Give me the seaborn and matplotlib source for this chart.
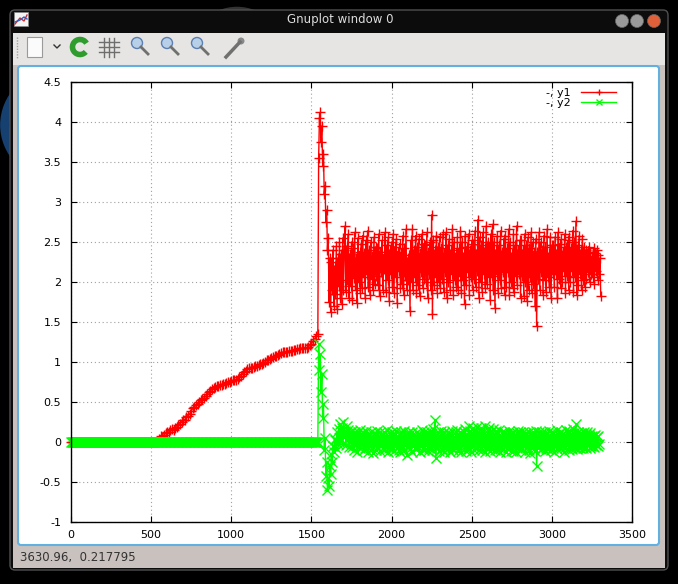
import numpy as np
import pandas as pd
import matplotlib
matplotlib.use("Agg")
import matplotlib.pyplot as plt
from matplotlib.patches import FancyBboxPatch, Rectangle, Circle, Arc
import seaborn as sns

# where each stretch of the log starts and how far apart its samples are
flat_step = 5
ramp_start, ramp_step = 550, 10
kick_start, kick_step = 1540, 5
y1_noise_start, y2_noise_start, noise_step = 1610, 1650, 5

y1_flat = [0.0] * 110
y1_ramp = [0.04, 0.07, 0.06, 0.09, 0.11, 0.13, 0.12, 0.15, 0.16, 0.15,
           0.17, 0.19, 0.21, 0.23, 0.25, 0.27, 0.28, 0.31, 0.33, 0.35,
           0.39, 0.42, 0.44, 0.46, 0.48, 0.50, 0.52, 0.54, 0.55, 0.57,
           0.60, 0.62, 0.64, 0.66, 0.67, 0.69, 0.70, 0.70, 0.71, 0.71,
           0.72, 0.73, 0.74, 0.75, 0.75, 0.76, 0.77, 0.77, 0.78, 0.79,
           0.81, 0.83, 0.85, 0.87, 0.89, 0.91, 0.92, 0.93, 0.93, 0.94,
           0.95, 0.95, 0.96, 0.97, 0.98, 0.99, 1.00, 1.02, 1.03, 1.04,
           1.05, 1.06, 1.07, 1.08, 1.09, 1.10, 1.11, 1.12, 1.12, 1.13,
           1.13, 1.14, 1.14, 1.14, 1.15, 1.15, 1.16, 1.16, 1.17, 1.17,
           1.17, 1.18, 1.18, 1.19, 1.21, 1.23, 1.26, 1.29, 1.32]
y1_kick = [1.35, 3.55, 4.05, 4.12, 3.75, 3.95, 3.45, 3.6, 3.1, 3.2,
           2.75, 2.9, 2.4, 2.55]
y1_noise = [
    1.75, 2.3, 1.62, 2.25, 1.9, 2.4, 1.7, 2.2, 1.85, 2.45, 1.66, 2.3, 1.95, 2.5, 1.8, 2.35, 1.72, 2.55, 1.9, 2.4,
    2.7, 1.88, 2.45, 2.02, 2.6, 1.8, 2.35, 1.95, 2.5, 1.78, 2.42, 2.05, 2.62, 1.9, 2.3, 1.74, 2.55, 2.0, 2.38, 1.86,
    2.48, 1.92, 2.58, 2.06, 2.36, 1.8, 2.52, 2.1, 2.64, 1.94, 2.4, 1.84, 2.5, 2.04, 2.32, 1.9, 2.56, 1.98, 2.44, 2.08,
    2.42, 1.96, 2.6, 1.82, 2.38, 2.12, 2.52, 1.9, 2.34, 2.16, 2.62, 1.88, 2.46, 2.02, 2.56, 1.76, 2.4, 2.1, 2.5, 1.94,
    2.6, 1.86, 2.44, 2.06, 2.54, 1.74, 2.38, 2.14, 2.48, 1.92, 2.36, 1.98, 2.58, 1.84, 2.42, 2.08, 2.66, 1.9, 2.3, 2.02,
    2.34, 1.64, 2.52, 2.0, 2.66, 1.9, 2.4, 2.06, 2.58, 1.86, 2.44, 1.96, 2.54, 1.82, 2.36, 2.12, 2.6, 1.92, 2.48, 2.04,
    2.46, 2.0, 2.62, 1.8, 2.38, 2.1, 2.5, 1.9, 2.84, 1.6, 2.52, 1.96, 2.4, 2.06, 2.58, 1.86, 2.44, 2.0, 2.56, 1.92,
    2.42, 2.04, 2.6, 1.88, 2.36, 2.12, 2.62, 1.8, 2.46, 2.0, 2.54, 1.9, 2.4, 2.1, 2.66, 1.84, 2.5, 2.02, 2.36, 1.94,
    2.56, 1.9, 2.42, 2.08, 2.64, 1.86, 2.5, 2.02, 2.36, 1.72, 2.58, 1.96, 2.44, 2.12, 2.6, 1.84, 2.4, 2.06, 2.52, 1.9,
    2.48, 2.04, 2.64, 1.94, 2.4, 2.14, 2.78, 1.8, 2.56, 2.0, 2.46, 1.88, 2.62, 2.1, 2.42, 1.92, 2.7, 1.98, 2.5, 2.06,
    2.44, 1.78, 2.6, 2.08, 2.72, 1.9, 2.5, 1.68, 2.4, 2.1, 2.58, 1.86, 2.46, 2.02, 2.64, 1.92, 2.38, 2.12, 2.54, 1.84,
    2.58, 1.94, 2.42, 2.12, 2.66, 1.84, 2.5, 2.0, 2.36, 1.92, 2.6, 1.88, 2.46, 2.08, 2.7, 1.96, 2.4, 2.1, 2.52, 1.8,
    2.52, 2.08, 2.4, 1.82, 2.6, 2.0, 2.46, 1.76, 2.56, 1.9, 2.42, 2.06, 2.62, 1.86, 2.5, 1.98, 2.38, 1.7, 2.54, 1.45,
    2.38, 2.04, 2.62, 1.9, 2.5, 2.12, 2.4, 1.84, 2.58, 2.02, 2.44, 1.88, 2.66, 2.06, 2.36, 1.94, 2.56, 1.8, 2.46, 2.1,
    2.46, 1.94, 2.56, 2.1, 2.4, 1.8, 2.62, 2.04, 2.48, 1.92, 2.54, 2.0, 2.38, 2.14, 2.6, 1.86, 2.44, 2.08, 2.52, 1.9,
    2.56, 2.0, 2.42, 2.14, 2.64, 1.88, 2.5, 2.06, 2.76, 1.84, 2.46, 1.96, 2.58, 2.1, 2.4, 1.9, 2.54, 2.02, 2.44, 1.94,
    2.4, 2.04, 2.36, 2.12, 2.44, 2.0, 2.38, 2.1, 2.32, 2.06, 2.42, 1.98, 2.36, 2.14, 2.4, 2.02, 2.34, 2.1, 2.3, 1.82]

y2_flat = [0.0] * 308
y2_kick = [0.0, 1.22, 0.9, 1.1, 0.62, 0.85, 0.3, 0.48, -0.1, 0.05,
           -0.42, -0.25, -0.6, -0.45, -0.55, -0.3, -0.4, -0.15, -0.25, -0.05,
           -0.12, 0.02]
y2_noise = [
    0.04, -0.08, 0.12, -0.02, 0.16, 0.0, 0.22, 0.04, 0.18, -0.02, 0.25, 0.06, 0.14, -0.04, 0.2, 0.02, 0.15, -0.06, 0.12, 0.0,
    0.14, -0.06, 0.1, -0.1, 0.13, -0.04, 0.09, -0.12, 0.12, -0.06, 0.15, -0.08, 0.1, -0.03, 0.12, -0.1, 0.08, -0.07, 0.14, -0.05,
    0.1, -0.12, 0.08, -0.05, 0.13, -0.09, 0.06, -0.14, 0.11, -0.04, 0.09, -0.1, 0.14, -0.07, 0.07, -0.11, 0.12, -0.05, 0.1, -0.08,
    0.12, -0.1, 0.07, -0.06, 0.15, -0.12, 0.05, -0.08, 0.11, -0.05, 0.13, -0.09, 0.08, -0.11, 0.1, -0.04, 0.14, -0.07, 0.06, -0.1,
    0.09, -0.13, 0.12, -0.07, 0.08, -0.1, 0.14, -0.04, 0.1, -0.16, 0.11, -0.06, 0.13, -0.09, 0.07, -0.12, 0.12, -0.05, 0.09, -0.08,
    0.07, -0.09, 0.13, -0.06, 0.1, -0.12, 0.08, -0.05, 0.15, -0.08, 0.12, -0.1, 0.09, -0.04, 0.13, -0.11, 0.1, -0.07, 0.14, -0.06,
    0.11, -0.1, 0.16, -0.05, 0.28, -0.2, 0.09, -0.06, 0.12, -0.11, 0.07, -0.04, 0.14, -0.09, 0.1, -0.13, 0.12, -0.07, 0.08, -0.05,
    0.13, -0.09, 0.1, -0.13, 0.08, -0.07, 0.14, -0.1, 0.06, -0.05, 0.12, -0.08, 0.15, -0.11, 0.09, -0.06, 0.13, -0.12, 0.1, -0.04,
    0.12, -0.08, 0.16, -0.11, 0.1, -0.06, 0.2, -0.09, 0.14, -0.12, 0.11, -0.05, 0.17, -0.1, 0.13, -0.07, 0.19, -0.08, 0.12, -0.1,
    0.11, -0.07, 0.17, -0.1, 0.13, -0.05, 0.2, -0.12, 0.09, -0.08, 0.15, -0.06, 0.18, -0.11, 0.12, -0.09, 0.16, -0.04, 0.1, -0.1,
    0.14, -0.1, 0.1, -0.06, 0.15, -0.13, 0.08, -0.07, 0.12, -0.09, 0.13, -0.05, 0.11, -0.12, 0.09, -0.08, 0.14, -0.06, 0.1, -0.11,
    0.1, -0.11, 0.13, -0.05, 0.09, -0.12, 0.11, -0.08, 0.14, -0.06, 0.12, -0.1, 0.08, -0.07, 0.13, -0.04, 0.1, -0.12, 0.11, -0.06,
    0.08, -0.1, 0.12, -0.14, 0.1, -0.08, 0.13, -0.06, 0.09, -0.11, 0.14, -0.3, 0.07, -0.08, 0.13, -0.05, 0.1, -0.09, 0.12, -0.07,
    0.09, -0.11, 0.12, -0.07, 0.1, -0.09, 0.14, -0.06, 0.08, -0.1, 0.13, -0.08, 0.11, -0.12, 0.09, -0.05, 0.15, -0.09, 0.1, -0.06,
    0.11, -0.08, 0.13, -0.05, 0.1, -0.12, 0.09, -0.07, 0.15, -0.04, 0.12, -0.1, 0.14, -0.06, 0.1, -0.09, 0.16, -0.05, 0.11, -0.08,
    0.22, -0.09, 0.12, -0.06, 0.1, -0.08, 0.11, -0.05, 0.09, -0.07, 0.13, -0.06, 0.1, -0.08, 0.12, -0.04, 0.09, -0.07, 0.11, -0.05,
    0.08, -0.05, 0.07, -0.06, 0.09, -0.04, 0.06, -0.05, 0.07, -0.03]

x_ticks = [0, 500, 1000, 1500, 2000, 2500, 3000, 3500]
y_ticks = [-1, -0.5, 0, 0.5, 1, 1.5, 2, 2.5, 3, 3.5, 4, 4.5]
y_tick_labels = ["-1", "-0.5", "0", "0.5", "1", "1.5", "2", "2.5", "3", "3.5", "4", "4.5"]


def stretch(vals, start, step):
    return start + step * np.arange(len(vals))


x1 = np.concatenate([stretch(y1_flat, 0, flat_step), stretch(y1_ramp, ramp_start, ramp_step),
                     stretch(y1_kick, kick_start, kick_step), stretch(y1_noise, y1_noise_start, noise_step)])
x2 = np.concatenate([stretch(y2_flat, 0, flat_step), stretch(y2_kick, kick_start, kick_step),
                     stretch(y2_noise, y2_noise_start, noise_step)])
df1 = pd.DataFrame({"x": x1, "y": y1_flat + y1_ramp + y1_kick + y1_noise})
df2 = pd.DataFrame({"x": x2, "y": y2_flat + y2_kick + y2_noise})

plt.rcParams["axes.unicode_minus"] = False
plt.rcParams["font.family"] = ["DejaVu Sans"]

W, H = 678, 584
fig = plt.figure(figsize=(W / 100, H / 100), dpi=100, facecolor="black")

# window decoration, drawn in pixel coordinates
bg = fig.add_axes([0, 0, 1, 1])
bg.set_xlim(0, W)
bg.set_ylim(H, 0)
bg.axis("off")
bg.add_patch(Circle((55, 125), 50, fill=False, ec="#16406f", lw=7))
bg.add_patch(Circle((237, 55), 42, fill=False, ec="#333333", lw=9))
bg.add_patch(FancyBboxPatch((10, 10), 658, 560, boxstyle="round,pad=0,rounding_size=5",
                            fc="#0c0c0c", ec="#505050", lw=1))
bg.add_patch(Rectangle((13, 33), 652, 535, fc="#c9c1bd", ec="none"))
bg.add_patch(Rectangle((13, 33), 652, 32, fc="#e6e5e4", ec="none"))
bg.add_patch(FancyBboxPatch((18, 66), 641, 479, boxstyle="round,pad=0,rounding_size=3",
                            fc="white", ec="#62b0e0", lw=1.5))
bg.text(340, 19, "Gnuplot window 0", color="#dddddd", fontsize=8.5, ha="center", va="center")
for cx, col in [(622, "#9a9a9a"), (637, "#9a9a9a"), (654, "#e0603a")]:
    bg.add_patch(Circle((cx, 21), 6.5, fc=col, ec="#666666", lw=0.5))
bg.text(20, 557, "3630.96,  0.217795", color="#333333", fontsize=8.5, va="center")
# toolbar glyphs
bg.add_patch(Rectangle((14, 12), 14, 14, fc="#f4f4f4", ec="#888888", lw=0.5))
bg.plot([15, 20, 24, 27], [24, 18, 21, 15], color="#c83030", lw=1)
bg.plot([15, 20, 24, 27], [22, 20, 17, 19], color="#3060c8", lw=1)
bg.plot([17, 17], [37, 58], color="#a0a0a0", lw=1, ls=(0, (1, 1)))
bg.add_patch(Rectangle((27, 37), 15, 20, fc="#fbfbfb", ec="#9a9a9a", lw=0.8))
bg.plot([54, 57, 60], [45, 48, 45], color="#333333", lw=1)
bg.add_patch(Arc((80, 47), 15, 15, theta1=40, theta2=330, ec="#2e9d2e", lw=4))
for gx in [104, 109, 114]:
    bg.plot([gx, gx], [38, 57], color="#6e6e6e", lw=1)
for gy in [42, 47, 52]:
    bg.plot([99, 119], [gy, gy], color="#6e6e6e", lw=1)
for mx in [137, 167, 197]:
    bg.plot([mx + 4, mx + 11], [47, 54], color="#707070", lw=2)
    bg.add_patch(Circle((mx, 43), 5.5, fc="#b8cfe8", ec="#5a7fb0", lw=1))
bg.plot([226, 240], [57, 42], color="#707070", lw=2.5)
bg.add_patch(Circle((241, 41), 3.5, fc="#8a8a8a", ec="none"))

ax = fig.add_axes([71 / W, 1 - 522 / H, (632 - 71) / W, (522 - 82) / H])
ax.set_facecolor("white")

sns.lineplot(data=df1, x="x", y="y", sort=False, estimator=None, ax=ax, color="#ff0000",
             lw=1, marker="+", ms=7, mew=1, mec="#ff0000", label="-, y1", clip_on=False)
sns.lineplot(data=df2, x="x", y="y", sort=False, estimator=None, ax=ax, color="#00ff00",
             lw=1, marker="x", ms=7, mew=1, mec="#00ff00", label="-, y2", clip_on=False)

ax.set_xlim(0, 3500)
ax.set_ylim(-1, 4.5)
ax.set_xticks(x_ticks)
ax.set_xticklabels([str(t) for t in x_ticks])
ax.set_yticks(y_ticks)
ax.set_yticklabels(y_tick_labels)
ax.set_xlabel("")
ax.set_ylabel("")
ax.grid(True, color="#a0a0a0", lw=0.8, ls=(0, (1, 2.5)))
ax.tick_params(direction="in", top=True, right=True, length=4, width=0.8,
               labelsize=8, colors="black")
ax.tick_params(axis="y", pad=7)
ax.tick_params(axis="x", pad=6)
for s in ax.spines.values():
    s.set_color("black")
    s.set_linewidth(1)

leg = ax.legend(loc="upper right", bbox_to_anchor=(1 - 10 / 561, 1.0), frameon=False,
                markerfirst=False, fontsize=8, handlelength=3.2, handletextpad=0.9,
                labelspacing=0.05, borderaxespad=0.2, borderpad=0.3)
for h in leg.legend_handles:
    h.set_markersize(5)

fig.savefig("out.png", dpi=100, facecolor="black")
